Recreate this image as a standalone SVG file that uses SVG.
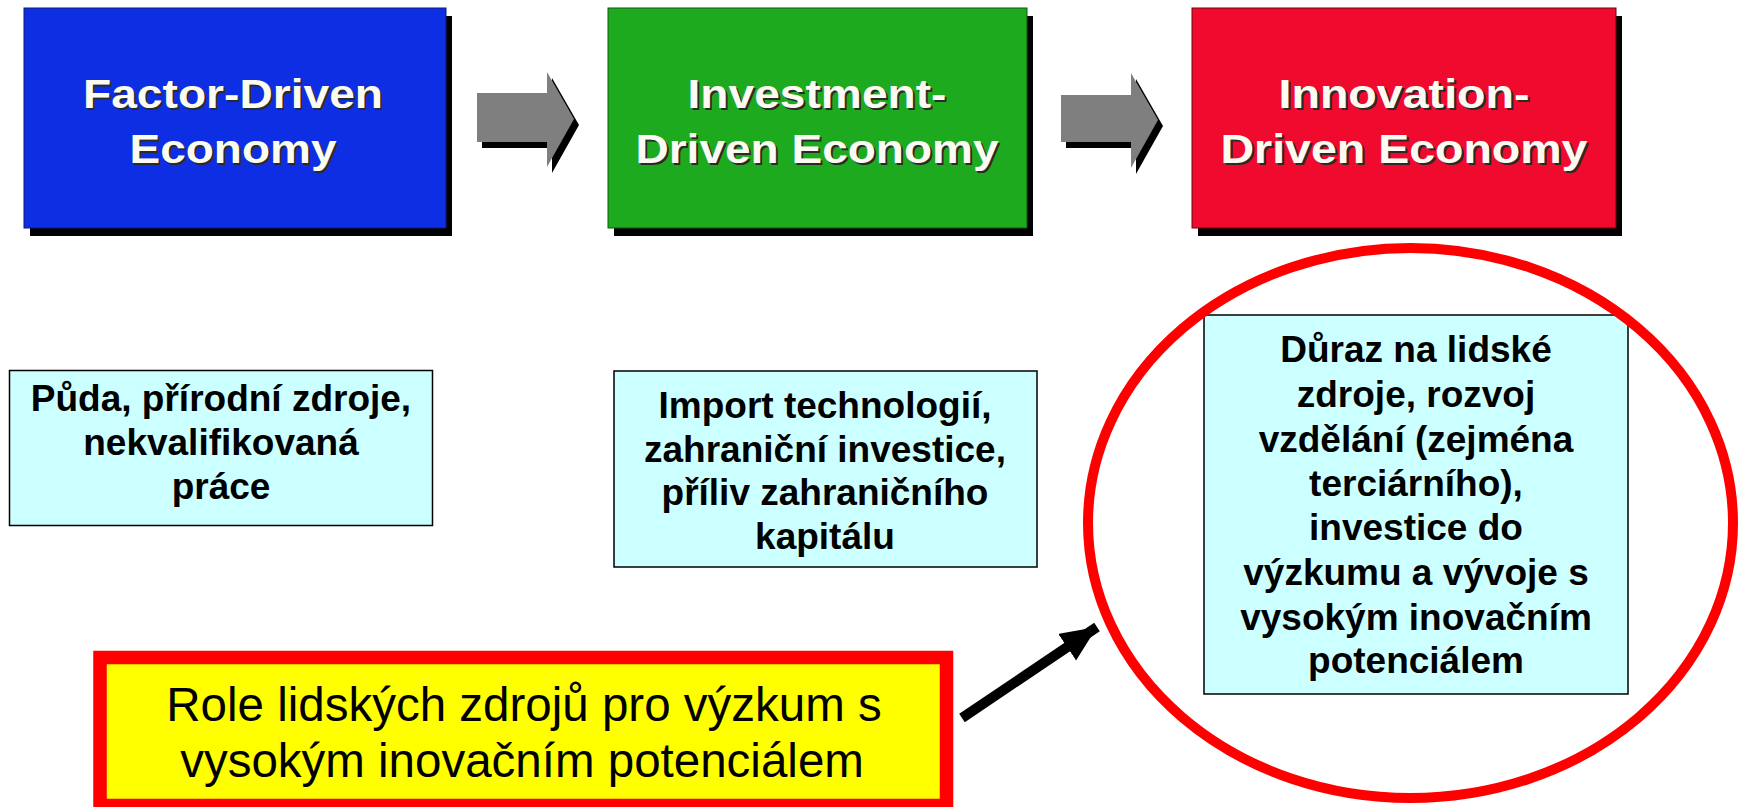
<svg xmlns="http://www.w3.org/2000/svg" width="1743" height="807" viewBox="0 0 1743 807">
  <defs>
    <style>
      .shadow { fill: #000000; }
      .head { font-family: "Liberation Sans", Arial, sans-serif; font-weight: bold; font-size: 40px; text-anchor: middle; fill: #fbfbf2; }
      .headsh { font-family: "Liberation Sans", Arial, sans-serif; font-weight: bold; font-size: 40px; text-anchor: middle; fill: #2a2a2a; }
      .info { fill: #ccffff; stroke: #000000; stroke-width: 1.5; }
      .infotxt { font-family: "Liberation Sans", Arial, sans-serif; font-weight: bold; font-size: 37px; text-anchor: middle; fill: #000000; }
      .gray { fill: #7f7f7f; }
      .callout { font-family: "Liberation Sans", Arial, sans-serif; font-size: 47.5px; text-anchor: middle; fill: #000000; }
    </style>
    <marker id="ah" markerUnits="userSpaceOnUse" markerWidth="40" markerHeight="36" refX="36" refY="16" orient="auto">
      <path d="M0,0 L36,16 L0,32 Z" fill="#000000"/>
    </marker>
  </defs>

  <rect x="0" y="0" width="1743" height="807" fill="#ffffff"/>

  <g id="node-factor">
    <rect class="shadow" x="30" y="16" width="422" height="220"/>
    <rect x="24" y="8" width="422" height="220" fill="#0e2ee4" stroke="#0a1a80" stroke-width="1"/>
    <text class="headsh" x="235" y="110" textLength="300" lengthAdjust="spacingAndGlyphs">Factor-Driven</text>
    <text class="head" x="233" y="108" textLength="300" lengthAdjust="spacingAndGlyphs">Factor-Driven</text>
    <text class="headsh" x="235" y="165" textLength="207" lengthAdjust="spacingAndGlyphs">Economy</text>
    <text class="head" x="233" y="163" textLength="207" lengthAdjust="spacingAndGlyphs">Economy</text>
  </g>

  <g id="node-investment">
    <rect class="shadow" x="614" y="16" width="419" height="220"/>
    <rect x="608" y="8" width="419" height="220" fill="#1eaa1e" stroke="#0c5a0c" stroke-width="1"/>
    <text class="headsh" x="819" y="110" textLength="259" lengthAdjust="spacingAndGlyphs">Investment-</text>
    <text class="head" x="817" y="108" textLength="259" lengthAdjust="spacingAndGlyphs">Investment-</text>
    <text class="headsh" x="819" y="165" textLength="363" lengthAdjust="spacingAndGlyphs">Driven Economy</text>
    <text class="head" x="817" y="163" textLength="363" lengthAdjust="spacingAndGlyphs">Driven Economy</text>
  </g>

  <g id="node-innovation">
    <rect class="shadow" x="1198" y="16" width="424" height="220"/>
    <rect x="1192" y="8" width="424" height="220" fill="#f00a2d" stroke="#700010" stroke-width="1"/>
    <text class="headsh" x="1406" y="110" textLength="251" lengthAdjust="spacingAndGlyphs">Innovation-</text>
    <text class="head" x="1404" y="108" textLength="251" lengthAdjust="spacingAndGlyphs">Innovation-</text>
    <text class="headsh" x="1406" y="165" textLength="367" lengthAdjust="spacingAndGlyphs">Driven Economy</text>
    <text class="head" x="1404" y="163" textLength="367" lengthAdjust="spacingAndGlyphs">Driven Economy</text>
  </g>

  <g id="node-puda">
    <rect class="info" x="9.5" y="370.5" width="423" height="155"/>
    <text class="infotxt" x="221" y="411">Půda, přírodní zdroje,</text>
    <text class="infotxt" x="221" y="455">nekvalifikovaná</text>
    <text class="infotxt" x="221" y="499">práce</text>
  </g>

  <g id="node-import">
    <rect class="info" x="614" y="371" width="423" height="196"/>
    <text class="infotxt" x="825" y="418">Import technologií,</text>
    <text class="infotxt" x="825" y="462">zahraniční investice,</text>
    <text class="infotxt" x="825" y="505">příliv zahraničního</text>
    <text class="infotxt" x="825" y="549">kapitálu</text>
  </g>

  <g id="node-duraz">
    <rect class="info" x="1204" y="315" width="424" height="379"/>
    <text class="infotxt" x="1416" y="362">Důraz na lidské</text>
    <text class="infotxt" x="1416" y="407">zdroje, rozvoj</text>
    <text class="infotxt" x="1416" y="452">vzdělání (zejména</text>
    <text class="infotxt" x="1416" y="496">terciárního),</text>
    <text class="infotxt" x="1416" y="540">investice do</text>
    <text class="infotxt" x="1416" y="585">výzkumu a vývoje s</text>
    <text class="infotxt" x="1416" y="630">vysokým inovačním</text>
    <text class="infotxt" x="1416" y="673">potenciálem</text>
  </g>

  <g id="node-highlight">
    <ellipse cx="1410.5" cy="523" rx="322.5" ry="275" fill="none" stroke="#ff0000" stroke-width="10"/>
  </g>

  <g id="node-callout">
    <rect x="100" y="657.5" width="846.5" height="148" fill="#ffff00" stroke="#ff0000" stroke-width="13.5"/>
    <text class="callout" x="524" y="721">Role lidských zdrojů pro výzkum s</text>
    <text class="callout" x="522" y="777">vysokým inovačním potenciálem</text>
  </g>

  <g id="connectors">
    <polygon class="shadow" points="482,99 552,99 552,78 579,125 552,173 552,148 482,148"/>
    <polygon class="gray" points="477,93 547,93 547,72 574,119 547,167 547,142 477,142"/>
    <polygon class="shadow" points="1066,101 1136,101 1136,79 1163,126 1136,174 1136,148 1066,148"/>
    <polygon class="gray" points="1061,95 1131,95 1131,73 1158,120 1131,168 1131,142 1061,142"/>
    <line x1="962" y1="718" x2="1097" y2="627" stroke="#000000" stroke-width="10" marker-end="url(#ah)"/>
  </g>
</svg>
